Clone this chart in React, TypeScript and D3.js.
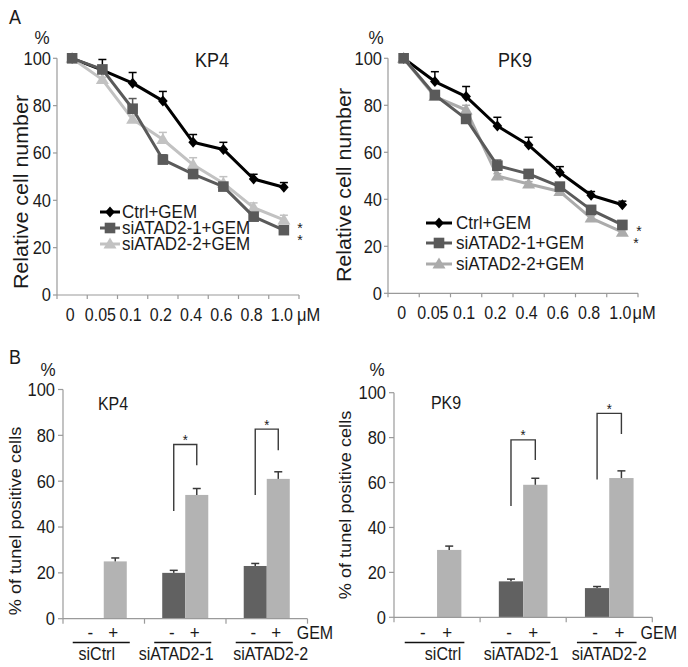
import React from 'react';
import * as d3 from 'd3';

const FONT = "'Liberation Sans', Arial, Helvetica, sans-serif";

// ---------- Panel A data ----------
const doses = ['0', '0.05', '0.1', '0.2', '0.4', '0.6', '0.8', '1.0'];
const doseUnit = 'μM';
const seriesNames = ['Ctrl+GEM', 'siATAD2-1+GEM', 'siATAD2-2+GEM'];
const lineTicks = [0, 20, 40, 60, 80, 100];

const kp4Ctrl = [100, 95, 89.5, 82, 64.5, 61.5, 49, 45.5];
const kp4CtrlErr = [0, 4.5, 4.5, 4, 3.3, 3, 2, 2];
const kp4Si1 = [100, 95.3, 78.7, 57.2, 51.1, 45.8, 33.1, 27.4];
const kp4Si1Err = [0, 1.5, 4.3, 2, 1.5, 1.5, 1.5, 1.5];
const kp4Si2 = [100, 91, 74.2, 65.7, 55, 47.2, 36.9, 31.7];
const kp4Si2Err = [0, 1, 1.5, 3, 3, 2.8, 2, 2];

const pk9Ctrl = [100, 90.1, 83.7, 71.2, 63.1, 51.4, 41.7, 37.7];
const pk9CtrlErr = [0, 4.2, 4.3, 3.7, 3.3, 2.5, 1.6, 1.5];
const pk9Si1 = [100, 84.4, 74.2, 54.3, 50.8, 45.4, 35.5, 29.1];
const pk9Si1Err = [0, 1, 1, 2.4, 1.7, 1, 1, 1];
const pk9Si2 = [100, 83.7, 78, 49.9, 46.5, 43.3, 32, 26];
const pk9Si2Err = [0, 1, 2, 1, 1, 1, 1, 1];

// ---------- Panel B data ----------
const groups = ['siCtrl', 'siATAD2-1', 'siATAD2-2'];
const gemLevels = ['-', '+'];
const barTicks = [0, 20, 40, 60, 80, 100];

const kp4Minus: (number | null)[] = [null, 20, 23];
const kp4MinusErr = [0, 1.1, 1.1];
const kp4Plus = [25, 54, 61];
const kp4PlusErr = [1.5, 2.8, 3.1];
// brackets: [groupIndex, top, leftBottom, rightBottom]
const kp4Brackets = [[1, 76, 47, 67], [2, 82.7, 54, 73.5]];

const pk9Minus: (number | null)[] = [null, 16, 13];
const pk9MinusErr = [0, 1, 0.7];
const pk9Plus = [30, 59, 62];
const pk9PlusErr = [1.7, 2.9, 3.2];
const pk9Brackets = [[1, 79, 49.5, 70], [2, 90.8, 61.4, 81.6]];

const AXIS = '#9a9a9a';
const TXT = '#1a1a1a';
const STRETCH = 1.1;

function T({ x, y, size, anchor, children, central = true, rotate = false, fill = TXT, st = STRETCH }: any) {
  const tr = rotate
    ? `translate(${x},${y}) rotate(-90) scale(${st},1)`
    : `translate(${x},${y}) scale(1,${st})`;
  return (
    <text transform={tr} textAnchor={anchor || 'start'} dominantBaseline={central ? 'central' : undefined}
      fontSize={size} fontFamily={FONT} fill={fill}>{children}</text>
  );
}

function Marker({ type, x, y, color }: { type: string; x: number; y: number; color: string }) {
  if (type === 'diamond') {
    return <path d={`M${x},${y - 5.5}L${x + 4.8},${y}L${x},${y + 5.5}L${x - 4.8},${y}Z`} fill={color} />;
  }
  if (type === 'square') {
    return <rect x={x - 5.3} y={y - 5.3} width={10.6} height={10.6} fill={color} />;
  }
  return <path d={`M${x},${y - 6.5}L${x + 6.5},${y + 4.5}L${x - 6.5},${y + 4.5}Z`} fill={color} />;
}

type LineCfg = {
  x0: number; x1: number; yTop: number; yBase: number;
  title: string; titleX: number;
  pctX: number; yLabelX: number; yLabelY: number; yLabelSize: number;
  series: { values: number[]; errs: number[]; color: string; marker: string }[];
  order: number[];
  legend: { lx0: number; lx1: number; tx: number; rows: number[] };
  stars: { x: number; y: number }[];
  xLabelY: number; unitDx: number;
};

function LineChart({ c }: { c: LineCfg }) {
  const x = d3.scaleBand().domain(doses).range([c.x0, c.x1]);
  const y = d3.scaleLinear().domain([0, 100]).range([c.yBase, c.yTop]);
  const cx = (i: number) => (x(doses[i]) as number) + x.bandwidth() / 2;
  const line = d3.line<number>().x((_, i) => cx(i)).y((d) => y(d));
  const bounds = doses.map((d) => x(d) as number).concat([c.x1]);
  return (
    <g>
      <line x1={c.x0} x2={c.x0} y1={y(0)} y2={y(100)} stroke={AXIS} strokeWidth={1.2} />
      <line x1={c.x0} x2={c.x1} y1={y(0)} y2={y(0)} stroke={AXIS} strokeWidth={1.2} />
      {lineTicks.map((t) => (
        <g key={t}>
          <line x1={c.x0 - 4} x2={c.x0} y1={y(t)} y2={y(t)} stroke={AXIS} strokeWidth={1.2} />
          <T x={c.x0 - 6} y={y(t)} anchor="end" size={16.5} st={1.13}>{t}</T>
        </g>
      ))}
      {bounds.map((b, i) => (
        <line key={i} x1={b} x2={b} y1={y(0)} y2={y(0) + 4} stroke={AXIS} strokeWidth={1.2} />
      ))}
      {doses.map((d, i) => (
        <T key={d} x={cx(i) - 2} y={c.xLabelY} anchor="middle" size={16} st={1.13}>{d}</T>
      ))}
      <T x={cx(doses.length - 1) + c.unitDx} y={c.xLabelY} size={16.5} st={1.13}>{doseUnit}</T>
      <T x={c.pctX} y={38} anchor="middle" size={17}>%</T>
      <T x={c.titleX} y={60} anchor="middle" size={18}>{c.title}</T>
      <T x={c.yLabelX} y={c.yLabelY} anchor="middle" size={c.yLabelSize} central={false} rotate>Relative cell number</T>
      {c.order.map((si) => {
        const s = c.series[si];
        return (
          <g key={si}>
            {s.values.map((v, i) => s.errs[i] > 0 ? (
              <g key={i}>
                <line x1={cx(i)} x2={cx(i)} y1={y(v)} y2={y(v + s.errs[i])} stroke={s.color} strokeWidth={1.5} />
                <line x1={cx(i) - 4} x2={cx(i) + 4} y1={y(v + s.errs[i])} y2={y(v + s.errs[i])} stroke={s.color} strokeWidth={1.5} />
              </g>
            ) : null)}
            <path d={line(s.values) as string} fill="none" stroke={s.color} strokeWidth={3} strokeLinejoin="round" />
            {s.values.map((v, i) => <Marker key={i} type={s.marker} x={cx(i)} y={y(v)} color={s.color} />)}
          </g>
        );
      })}
      {seriesNames.map((n, i) => {
        const s = c.series[i];
        const ry = c.legend.rows[i];
        return (
          <g key={n}>
            <line x1={c.legend.lx0} x2={c.legend.lx1} y1={ry} y2={ry} stroke={s.color} strokeWidth={3} />
            <Marker type={s.marker} x={(c.legend.lx0 + c.legend.lx1) / 2} y={ry} color={s.color} />
            <T x={c.legend.tx} y={ry} size={17}>{n}</T>
          </g>
        );
      })}
      {c.stars.map((s, i) => (
        <T key={i} x={s.x} y={s.y + 8} anchor="middle" size={14} central={false}>*</T>
      ))}
    </g>
  );
}

type BarCfg = {
  x0: number; x1: number; yTop: number; yBase: number;
  title: string; titleX: number; titleY: number;
  pctX: number; yLabelX: number; yLabelY: number;
  minus: (number | null)[]; minusErr: number[]; plus: number[]; plusErr: number[];
  brackets: number[][];
  labelDx: number[];
};

function BarChart({ c }: { c: BarCfg }) {
  const gx = d3.scaleBand().domain(groups).range([c.x0, c.x1]);
  const sx = d3.scaleBand().domain(gemLevels).range([0, gx.bandwidth()]).paddingInner(0).paddingOuter(0.77);
  const y = d3.scaleLinear().domain([0, 100]).range([c.yBase, c.yTop]);
  const bw = sx.bandwidth();
  const bx = (g: number, l: string) => (gx(groups[g]) as number) + (sx(l) as number);
  const bounds = groups.map((g) => gx(g) as number).concat([c.x1]);
  const colors: Record<string, string> = { '-': '#616161', '+': '#b3b3b3' };
  const bars: { g: number; l: string; v: number; e: number }[] = [];
  groups.forEach((_, g) => {
    const m = c.minus[g];
    if (m != null) bars.push({ g, l: '-', v: m, e: c.minusErr[g] });
    bars.push({ g, l: '+', v: c.plus[g], e: c.plusErr[g] });
  });
  const lastPlusRight = bx(groups.length - 1, '+') + bw;
  return (
    <g>
      {bars.map((b, i) => (
        <g key={i}>
          <rect x={bx(b.g, b.l)} y={y(b.v)} width={bw} height={y(0) - y(b.v)} fill={colors[b.l]} />
          <line x1={bx(b.g, b.l) + bw / 2} x2={bx(b.g, b.l) + bw / 2} y1={y(b.v)} y2={y(b.v + b.e)} stroke="#3a3a3a" strokeWidth={1.5} />
          <line x1={bx(b.g, b.l) + bw / 2 - 4} x2={bx(b.g, b.l) + bw / 2 + 4} y1={y(b.v + b.e)} y2={y(b.v + b.e)} stroke="#3a3a3a" strokeWidth={1.5} />
        </g>
      ))}
      <line x1={c.x0} x2={c.x0} y1={y(0)} y2={y(100)} stroke={AXIS} strokeWidth={1.2} />
      <line x1={c.x0} x2={c.x1} y1={y(0)} y2={y(0)} stroke={AXIS} strokeWidth={1.2} />
      {barTicks.map((t) => (
        <g key={t}>
          <line x1={c.x0 - 5} x2={c.x0} y1={y(t)} y2={y(t)} stroke={AXIS} strokeWidth={1.2} />
          <T x={c.x0 - 8} y={y(t)} anchor="end" size={16.5} st={1.13}>{t}</T>
        </g>
      ))}
      {bounds.map((b, i) => (
        <line key={i} x1={b} x2={b} y1={y(0)} y2={y(0) + 5} stroke={AXIS} strokeWidth={1.2} />
      ))}
      {c.brackets.map((br, i) => {
        const g = br[0];
        const lx = bx(g, '-') + bw / 2;
        const rx = bx(g, '+') + bw / 2;
        return (
          <g key={i}>
            <path d={`M${lx},${y(br[2])}V${y(br[1])}H${rx}V${y(br[3])}`} fill="none" stroke="#3a3a3a" strokeWidth={1.4} />
            <T x={(lx + rx) / 2} y={y(br[1]) + 0.5} anchor="middle" size={13} central={false}>*</T>
          </g>
        );
      })}
      {groups.map((gname, g) => {
        const left = bx(g, '-') - 8;
        const right = bx(g, '+') + bw + 3;
        const gc = (gx(gname) as number) + gx.bandwidth() / 2;
        return (
          <g key={gname}>
            {gemLevels.map((l) => (
              <T key={l} x={bx(g, l) + bw / 2 - 2} y={633} anchor="middle" size={17}>{l}</T>
            ))}
            <line x1={left} x2={right} y1={642.5} y2={642.5} stroke="#111" strokeWidth={1.3} />
            <T x={gc + c.labelDx[g]} y={654} anchor="middle" size={16}>{gname}</T>
          </g>
        );
      })}
      <T x={lastPlusRight + 7} y={633} size={16}>GEM</T>
      <T x={c.pctX} y={370} anchor="middle" size={17}>%</T>
      <T x={c.titleX} y={c.titleY} anchor="middle" size={16}>{c.title}</T>
      <T x={c.yLabelX} y={c.yLabelY} anchor="middle" size={16.5} central={false} rotate>% of tunel positive cells</T>
    </g>
  );
}

export default function App() {
  const kp4Line: LineCfg = {
    x0: 57, x1: 299, yTop: 58.3, yBase: 295,
    title: 'KP4', titleX: 212, pctX: 42, yLabelX: 28, yLabelY: 192, yLabelSize: 19.5,
    series: [
      { values: kp4Ctrl, errs: kp4CtrlErr, color: '#000000', marker: 'diamond' },
      { values: kp4Si1, errs: kp4Si1Err, color: '#5a5a5a', marker: 'square' },
      { values: kp4Si2, errs: kp4Si2Err, color: '#c2c2c2', marker: 'triangle' },
    ],
    order: [0, 2, 1],
    legend: { lx0: 100, lx1: 120, tx: 122, rows: [212, 228, 244] },
    stars: [{ x: 300, y: 225 }, { x: 300, y: 237 }],
    xLabelY: 315, unitDx: 13,
  };
  const pk9Line: LineCfg = {
    x0: 388, x1: 638, yTop: 58.3, yBase: 293.3,
    title: 'PK9', titleX: 515, pctX: 376, yLabelX: 351, yLabelY: 185, yLabelSize: 19.5,
    series: [
      { values: pk9Ctrl, errs: pk9CtrlErr, color: '#000000', marker: 'diamond' },
      { values: pk9Si1, errs: pk9Si1Err, color: '#5a5a5a', marker: 'square' },
      { values: pk9Si2, errs: pk9Si2Err, color: '#ababab', marker: 'triangle' },
    ],
    order: [0, 2, 1],
    legend: { lx0: 426, lx1: 452, tx: 456, rows: [223, 243, 264] },
    stars: [{ x: 639, y: 228 }, { x: 636, y: 240 }],
    xLabelY: 313, unitDx: 10,
  };
  const kp4Bar: BarCfg = {
    x0: 63, x1: 307.5, yTop: 389.5, yBase: 618.7,
    title: 'KP4', titleX: 113, titleY: 404, pctX: 48, yLabelX: 21, yLabelY: 521,
    minus: kp4Minus, minusErr: kp4MinusErr, plus: kp4Plus, plusErr: kp4PlusErr,
    brackets: kp4Brackets, labelDx: [-7, -9, 4],
  };
  const pk9Bar: BarCfg = {
    x0: 394, x1: 652.3, yTop: 392.7, yBase: 617.3,
    title: 'PK9', titleX: 446, titleY: 403, pctX: 377, yLabelX: 351, yLabelY: 505,
    minus: pk9Minus, minusErr: pk9MinusErr, plus: pk9Plus, plusErr: pk9PlusErr,
    brackets: pk9Brackets, labelDx: [6, -2, 0],
  };
  return (
    <svg width={688} height={667} style={{ position: 'absolute', left: 0, top: 0, background: '#fff' }}>
      <rect width={688} height={667} fill="#fff" />
      <T x={15} y={17} anchor="middle" size={18}>A</T>
      <T x={15} y={357} anchor="middle" size={18}>B</T>
      <LineChart c={kp4Line} />
      <LineChart c={pk9Line} />
      <BarChart c={kp4Bar} />
      <BarChart c={pk9Bar} />
    </svg>
  );
}
